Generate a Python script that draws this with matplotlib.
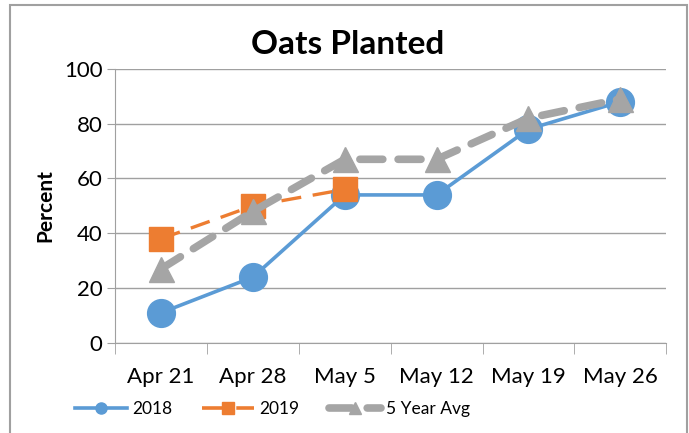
import matplotlib.pyplot as plt
from matplotlib.lines import Line2D
from matplotlib.patches import Rectangle

weeks = ["Apr 21", "Apr 28", "May 5", "May 12", "May 19", "May 26"]
y2018 = [11, 24, 54, 54, 78, 88]
y2019 = [38, 50, 56]
avg5 = [27, 48, 67, 67, 82, 89]

blue = "#5B9BD5"
orange = "#ED7D31"
gray = "#A5A5A5"

plt.rcParams["font.family"] = ["Lato", "DejaVu Sans"]

fig = plt.figure(figsize=(6.89, 4.33), dpi=100)
ax = fig.add_axes([0.167, 0.208, 0.8, 0.633])

x = list(range(len(weeks)))
ax.plot(x, y2018, color=blue, lw=2.6, marker="o", ms=20, zorder=3)
ax.plot(x[:len(y2019)], y2019, color=orange, lw=2.4, ls=(0, (6, 3.5)),
        marker="s", ms=17, zorder=4)
ax.plot(x, avg5, color=gray, lw=5.5, ls=(0, (3, 2)), marker="^", ms=18,
        dash_capstyle="round", zorder=5)

ax.set_xlim(-0.5, 5.5)
ax.set_ylim(0, 100)
ax.set_yticks(range(0, 101, 20))
ax.set_xticks(x)
ax.set_xticklabels(weeks)
ax.set_xticks([i - 0.5 for i in range(7)], minor=True)
ax.tick_params(axis="x", which="major", length=0, pad=17, labelsize=16)
ax.tick_params(axis="x", which="minor", length=8, color="#a0a0a0", direction="out")
ax.tick_params(axis="y", length=6, color="#a0a0a0", labelsize=16, pad=3)
ax.grid(axis="y", color="#a0a0a0", lw=1)
ax.set_axisbelow(True)
for s in ["top", "right"]:
    ax.spines[s].set_visible(False)
for s in ["left", "bottom"]:
    ax.spines[s].set_color("#a0a0a0")

ax.set_ylabel("Percent", fontsize=15, fontweight="bold", labelpad=6)
fig.text(0.505, 0.875, "Oats Planted", ha="center", fontsize=24, fontweight="bold")

handles = [
    Line2D([], [], color=blue, lw=2.6, marker="o", ms=8),
    Line2D([], [], color=orange, lw=2.6, ls=(0, (6, 3.5)), marker="s", ms=8),
    Line2D([], [], color=gray, lw=5.5, ls=(0, (3, 2)), marker="^", ms=8,
           dash_capstyle="round"),
]
fig.legend(handles, ["2018", "2019", "5 Year Avg"], loc="center",
           bbox_to_anchor=(0.396, 0.055), ncol=3, frameon=False, fontsize=12.5,
           handlelength=3.0, columnspacing=1.7, handletextpad=0.3)

fig.patches.append(Rectangle((0.015, -0.01), 0.982, 0.998, transform=fig.transFigure,
                             fill=False, edgecolor="#a0a0a0", lw=1.5))

fig.savefig("out.png", dpi=100)
